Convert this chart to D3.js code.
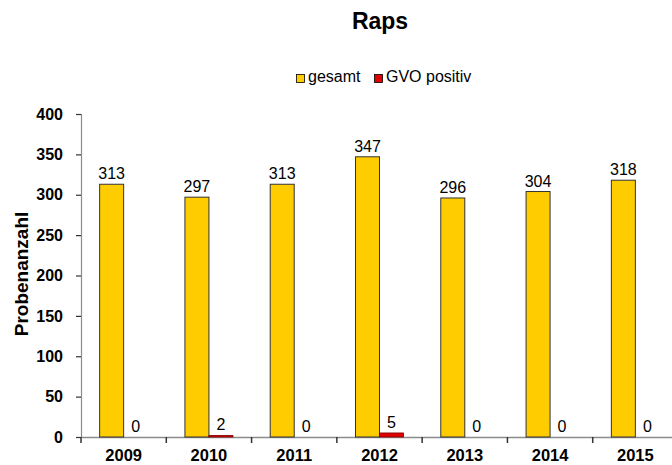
<!DOCTYPE html>
<html><head><meta charset="utf-8">
<script src="https://cdn.jsdelivr.net/npm/d3@7"></script>
<style>body{margin:0;background:#fff}svg{display:block;font-family:"Liberation Sans",Arial,sans-serif}</style>
</head><body><svg id="c" width="672" height="465"></svg>
<script>
const years = ["2009","2010","2011","2012","2013","2014","2015"];
const gesamt = [313,297,313,347,296,304,318];
const gvo = [0,2,0,5,0,0,0];
const seriesNames = ["gesamt","GVO positiv"];
const seriesColors = ["#FFCC00","#E00000"];
const yTicks = [0,50,100,150,200,250,300,350,400];

(function(){
const svg = d3.select("#c");
const pl = 81, pt = 114, pb = 437, pr = 678;
const x = d3.scaleBand().domain(years).range([pl, pr]).paddingInner(0).paddingOuter(0);
const y = d3.scaleLinear().domain([0,400]).range([pb, pt]);
const bw = 24;
const FF = "Liberation Sans, Arial, sans-serif";

svg.append("text").attr("x",380).attr("y",29).attr("text-anchor","middle")
  .attr("font-size",23).attr("font-weight","bold").text("Raps");

// legend
const lg = svg.append("g");
const legendX = [296, 374];
seriesNames.forEach((n,i)=>{
  lg.append("rect").attr("x",legendX[i]+0.5).attr("y",74.5).attr("width",8).attr("height",8)
    .attr("fill",seriesColors[i]).attr("stroke","#000").attr("stroke-width",0.8);
  lg.append("text").attr("x",legendX[i]+12).attr("y",82).attr("font-size",16).text(n);
});

// y axis
const ya = svg.append("g").attr("transform",`translate(${pl},0)`)
  .call(d3.axisLeft(y).tickValues(yTicks).tickSize(5).tickPadding(13));
ya.select(".domain").attr("stroke","#8c8c8c").attr("stroke-width",1.2);
ya.selectAll(".tick line").attr("stroke","#333").attr("stroke-width",1.2);
ya.selectAll("text").attr("font-size",16).attr("font-weight","bold").attr("fill","#000")
  .attr("font-family",FF);

// x axis
const xa = svg.append("g").attr("transform",`translate(0,${pb})`)
  .call(d3.axisBottom(x).tickSize(0).tickPadding(0));
xa.select(".domain").attr("stroke","#8c8c8c").attr("stroke-width",1.5);
xa.selectAll("text").attr("font-size",16.5).attr("font-weight","bold").attr("fill","#000")
  .attr("font-family",FF).attr("y",24).attr("dy",0);
years.forEach(yr=>{
  svg.append("line").attr("x1",x(yr)).attr("x2",x(yr)).attr("y1",pb).attr("y2",pb+6)
    .attr("stroke","#333").attr("stroke-width",1.5);
});

svg.append("text").attr("transform","translate(28,274) rotate(-90)").attr("text-anchor","middle")
  .attr("font-size",19).attr("font-weight","bold").text("Probenanzahl");

const cx = d => x(d) + x.bandwidth()/2;
svg.selectAll(".g").data(years).enter().append("rect")
  .attr("x",d=>cx(d)-bw).attr("width",bw)
  .attr("y",(d,i)=>y(gesamt[i])).attr("height",(d,i)=>pb-y(gesamt[i]))
  .attr("fill",seriesColors[0]).attr("stroke","#333").attr("stroke-width",1);
years.forEach((d,i)=>{
  if(gvo[i]>0) svg.append("rect").attr("x",cx(d)).attr("width",bw)
    .attr("y",y(gvo[i])).attr("height",pb-y(gvo[i]))
    .attr("fill",seriesColors[1]).attr("stroke","#800000").attr("stroke-width",0.8);
});

svg.selectAll(".lg").data(years).enter().append("text")
  .attr("x",d=>cx(d)-bw/2).attr("y",(d,i)=>y(gesamt[i])-5).attr("text-anchor","middle")
  .attr("font-size",16).text((d,i)=>gesamt[i]);
svg.selectAll(".lr").data(years).enter().append("text")
  .attr("x",d=>cx(d)+bw/2).attr("y",(d,i)=>y(gvo[i])-5).attr("text-anchor","middle")
  .attr("font-size",16).text((d,i)=>gvo[i]);
})();
</script></body></html>
